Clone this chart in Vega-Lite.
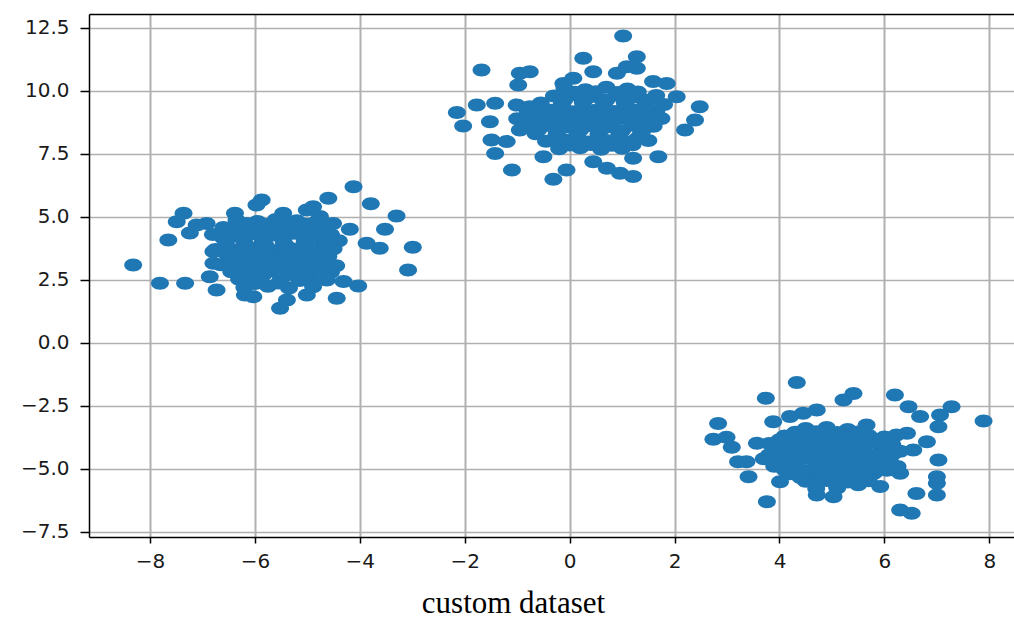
{
  "$schema": "https://vega.github.io/schema/vega-lite/v6.json",
  "width": 925,
  "height": 523,
  "autosize": {"type": "none"},
  "padding": {"left": 89, "top": 14, "right": 0, "bottom": 84},
  "background": "white",
  "config": {"view": {"stroke": null}},
  "title": {
    "text": "custom dataset",
    "orient": "bottom",
    "anchor": "middle",
    "font": "Liberation Serif",
    "fontSize": 31,
    "fontWeight": "normal",
    "color": "black",
    "dx": -38,
    "offset": 18
  },
  "data": {"values": [
    {"x": -4.12, "y": 6.2}, {"x": -4.6, "y": 5.74}, {"x": -3.79, "y": 5.52}, {"x": -3.3, "y": 5.03},
    {"x": -3.52, "y": 4.51}, {"x": -2.99, "y": 3.79}, {"x": -3.08, "y": 2.89}, {"x": -3.87, "y": 3.95},
    {"x": -3.62, "y": 3.75}, {"x": -4.19, "y": 4.51}, {"x": -4.03, "y": 2.26}, {"x": -4.44, "y": 1.77},
    {"x": -8.32, "y": 3.09}, {"x": -7.81, "y": 2.36}, {"x": -7.33, "y": 2.36}, {"x": -7.65, "y": 4.08},
    {"x": -7.49, "y": 4.81}, {"x": -7.36, "y": 5.14}, {"x": -7.24, "y": 4.36}, {"x": -6.92, "y": 4.74},
    {"x": -7.11, "y": 4.68}, {"x": -6.38, "y": 5.14}, {"x": -5.87, "y": 5.67}, {"x": -5.97, "y": 5.47},
    {"x": -5.46, "y": 5.14}, {"x": -5.01, "y": 5.27}, {"x": -4.89, "y": 5.4}, {"x": -4.76, "y": 5.01},
    {"x": -4.51, "y": 4.74}, {"x": -5.52, "y": 1.37}, {"x": -5.39, "y": 1.7}, {"x": -5.01, "y": 1.9},
    {"x": -4.89, "y": 2.23}, {"x": -4.63, "y": 2.49}, {"x": -4.31, "y": 2.43}, {"x": -6.19, "y": 1.9},
    {"x": -6.03, "y": 1.83}, {"x": -6.73, "y": 2.1}, {"x": -6.86, "y": 2.62}, {"x": -6.79, "y": 3.16},
    {"x": -6.79, "y": 3.62}, {"x": -6.6, "y": 4.28},
    {"x": -6.35, "y": 4.88}, {"x": -5.95, "y": 4.82}, {"x": -5.6, "y": 4.9}, {"x": -5.2, "y": 4.85}, {"x": -4.85, "y": 4.78},
    {"x": -6.6, "y": 4.58}, {"x": -6.15, "y": 4.62}, {"x": -5.8, "y": 4.55}, {"x": -5.4, "y": 4.6}, {"x": -5.0, "y": 4.65}, {"x": -4.65, "y": 4.55},
    {"x": -6.8, "y": 4.3}, {"x": -6.4, "y": 4.25}, {"x": -6.0, "y": 4.33}, {"x": -5.65, "y": 4.28}, {"x": -5.25, "y": 4.35}, {"x": -4.9, "y": 4.27}, {"x": -4.55, "y": 4.3},
    {"x": -6.55, "y": 4.02}, {"x": -6.2, "y": 3.97}, {"x": -5.85, "y": 4.05}, {"x": -5.45, "y": 3.98}, {"x": -5.05, "y": 4.03}, {"x": -4.7, "y": 3.96}, {"x": -4.4, "y": 4.05},
    {"x": -6.75, "y": 3.7}, {"x": -6.35, "y": 3.68}, {"x": -6.0, "y": 3.74}, {"x": -5.6, "y": 3.66}, {"x": -5.2, "y": 3.72}, {"x": -4.85, "y": 3.69}, {"x": -4.5, "y": 3.73},
    {"x": -6.5, "y": 3.42}, {"x": -6.1, "y": 3.38}, {"x": -5.75, "y": 3.45}, {"x": -5.35, "y": 3.4}, {"x": -4.95, "y": 3.36}, {"x": -4.6, "y": 3.43},
    {"x": -6.65, "y": 3.1}, {"x": -6.25, "y": 3.13}, {"x": -5.9, "y": 3.07}, {"x": -5.5, "y": 3.12}, {"x": -5.1, "y": 3.08}, {"x": -4.75, "y": 3.14}, {"x": -4.45, "y": 3.06},
    {"x": -6.45, "y": 2.82}, {"x": -6.05, "y": 2.78}, {"x": -5.65, "y": 2.84}, {"x": -5.3, "y": 2.77}, {"x": -4.9, "y": 2.83}, {"x": -4.55, "y": 2.8},
    {"x": -6.3, "y": 2.52}, {"x": -5.9, "y": 2.48}, {"x": -5.5, "y": 2.55}, {"x": -5.15, "y": 2.47}, {"x": -4.8, "y": 2.5},
    {"x": -6.2, "y": 2.2}, {"x": -5.75, "y": 2.25}, {"x": -5.35, "y": 2.18},
    {"x": -6.15, "y": 4.74}, {"x": -5.78, "y": 4.7}, {"x": -5.4, "y": 4.75}, {"x": -5.02, "y": 4.71},
    {"x": -6.4, "y": 4.45}, {"x": -6.0, "y": 4.47}, {"x": -5.6, "y": 4.43}, {"x": -5.2, "y": 4.46}, {"x": -4.8, "y": 4.44},
    {"x": -6.6, "y": 4.15}, {"x": -6.2, "y": 4.17}, {"x": -5.82, "y": 4.13}, {"x": -5.45, "y": 4.16}, {"x": -5.05, "y": 4.14}, {"x": -4.7, "y": 4.16},
    {"x": -6.55, "y": 3.85}, {"x": -6.15, "y": 3.83}, {"x": -5.8, "y": 3.87}, {"x": -5.4, "y": 3.84}, {"x": -5.0, "y": 3.86}, {"x": -4.65, "y": 3.84},
    {"x": -6.55, "y": 3.55}, {"x": -6.2, "y": 3.57}, {"x": -5.8, "y": 3.54}, {"x": -5.4, "y": 3.56}, {"x": -5.05, "y": 3.53}, {"x": -4.7, "y": 3.56},
    {"x": -6.45, "y": 3.25}, {"x": -6.05, "y": 3.27}, {"x": -5.65, "y": 3.24}, {"x": -5.25, "y": 3.26}, {"x": -4.85, "y": 3.23},
    {"x": -6.45, "y": 2.95}, {"x": -6.05, "y": 2.97}, {"x": -5.7, "y": 2.94}, {"x": -5.3, "y": 2.96}, {"x": -4.95, "y": 2.93}, {"x": -4.6, "y": 2.96},
    {"x": -6.25, "y": 2.65}, {"x": -5.85, "y": 2.67}, {"x": -5.45, "y": 2.64}, {"x": -5.05, "y": 2.66}, {"x": -4.7, "y": 2.63},
    {"x": -6.0, "y": 2.35}, {"x": -5.55, "y": 2.37},

    {"x": 1.02, "y": 12.18}, {"x": 0.26, "y": 11.3}, {"x": 1.28, "y": 11.36}, {"x": 1.28, "y": 10.9},
    {"x": -1.68, "y": 10.83}, {"x": -0.95, "y": 10.7}, {"x": -0.76, "y": 10.76}, {"x": -0.98, "y": 10.24},
    {"x": 0.45, "y": 10.76}, {"x": 1.59, "y": 10.37}, {"x": 1.85, "y": 10.3}, {"x": 2.04, "y": 9.77},
    {"x": 2.48, "y": 9.37}, {"x": 2.39, "y": 8.85}, {"x": 2.2, "y": 8.45}, {"x": 1.69, "y": 7.39},
    {"x": 1.21, "y": 7.33}, {"x": 1.21, "y": 6.6}, {"x": 0.96, "y": 6.73}, {"x": 0.71, "y": 6.93},
    {"x": 0.45, "y": 7.19}, {"x": -0.31, "y": 6.49}, {"x": -0.06, "y": 6.86}, {"x": -1.1, "y": 6.86},
    {"x": -1.42, "y": 7.52}, {"x": -1.49, "y": 8.05}, {"x": -2.03, "y": 8.61}, {"x": -2.15, "y": 9.14},
    {"x": -1.77, "y": 9.44}, {"x": -1.42, "y": 9.51}, {"x": -1.52, "y": 8.78}, {"x": -1.01, "y": 9.44},
    {"x": -0.76, "y": 9.37}, {"x": -0.44, "y": 9.18}, {"x": -0.5, "y": 7.39}, {"x": -1.2, "y": 7.99},
    {"x": -0.95, "y": 8.45}, {"x": -0.12, "y": 10.3}, {"x": 0.07, "y": 10.5}, {"x": 0.9, "y": 10.7},
    {"x": 1.09, "y": 10.96},
    {"x": -0.1, "y": 10.12}, {"x": 0.3, "y": 10.05}, {"x": 0.7, "y": 10.15}, {"x": 1.1, "y": 10.08},
    {"x": -0.3, "y": 9.8}, {"x": 0.1, "y": 9.85}, {"x": 0.5, "y": 9.78}, {"x": 0.9, "y": 9.83}, {"x": 1.3, "y": 9.77}, {"x": 1.65, "y": 9.82},
    {"x": -0.55, "y": 9.52}, {"x": -0.15, "y": 9.48}, {"x": 0.25, "y": 9.55}, {"x": 0.65, "y": 9.47}, {"x": 1.05, "y": 9.53}, {"x": 1.45, "y": 9.5}, {"x": 1.8, "y": 9.46},
    {"x": -0.8, "y": 9.2}, {"x": -0.35, "y": 9.23}, {"x": 0.05, "y": 9.17}, {"x": 0.45, "y": 9.22}, {"x": 0.85, "y": 9.18}, {"x": 1.25, "y": 9.24}, {"x": 1.65, "y": 9.19},
    {"x": -1.0, "y": 8.9}, {"x": -0.6, "y": 8.93}, {"x": -0.2, "y": 8.87}, {"x": 0.2, "y": 8.92}, {"x": 0.6, "y": 8.88}, {"x": 1.0, "y": 8.94}, {"x": 1.4, "y": 8.86}, {"x": 1.75, "y": 8.91},
    {"x": -0.85, "y": 8.6}, {"x": -0.4, "y": 8.63}, {"x": 0.0, "y": 8.57}, {"x": 0.4, "y": 8.62}, {"x": 0.8, "y": 8.58}, {"x": 1.2, "y": 8.64}, {"x": 1.6, "y": 8.6},
    {"x": -0.65, "y": 8.3}, {"x": -0.25, "y": 8.27}, {"x": 0.15, "y": 8.33}, {"x": 0.55, "y": 8.28}, {"x": 0.95, "y": 8.32}, {"x": 1.35, "y": 8.26},
    {"x": -0.45, "y": 8.0}, {"x": -0.05, "y": 8.04}, {"x": 0.35, "y": 7.97}, {"x": 0.75, "y": 8.02}, {"x": 1.15, "y": 7.98}, {"x": 1.5, "y": 8.03},
    {"x": -0.2, "y": 7.7}, {"x": 0.2, "y": 7.74}, {"x": 0.6, "y": 7.68}, {"x": 1.0, "y": 7.72},
    {"x": 0.1, "y": 9.95}, {"x": 0.5, "y": 9.97}, {"x": 0.9, "y": 9.94}, {"x": 1.3, "y": 9.96},
    {"x": -0.1, "y": 9.65}, {"x": 0.3, "y": 9.67}, {"x": 0.7, "y": 9.64}, {"x": 1.1, "y": 9.66}, {"x": 1.5, "y": 9.63},
    {"x": -0.6, "y": 9.35}, {"x": -0.15, "y": 9.37}, {"x": 0.25, "y": 9.34}, {"x": 0.65, "y": 9.36}, {"x": 1.05, "y": 9.33}, {"x": 1.45, "y": 9.36},
    {"x": -0.55, "y": 9.05}, {"x": -0.15, "y": 9.07}, {"x": 0.25, "y": 9.04}, {"x": 0.65, "y": 9.06}, {"x": 1.05, "y": 9.03}, {"x": 1.45, "y": 9.06},
    {"x": -0.8, "y": 8.75}, {"x": -0.4, "y": 8.77}, {"x": 0.0, "y": 8.74}, {"x": 0.4, "y": 8.76}, {"x": 0.8, "y": 8.73}, {"x": 1.2, "y": 8.76}, {"x": 1.6, "y": 8.74},
    {"x": -0.6, "y": 8.45}, {"x": -0.2, "y": 8.47}, {"x": 0.2, "y": 8.44}, {"x": 0.6, "y": 8.46}, {"x": 1.0, "y": 8.43}, {"x": 1.4, "y": 8.46},
    {"x": -0.25, "y": 8.15}, {"x": 0.15, "y": 8.17}, {"x": 0.55, "y": 8.14}, {"x": 0.95, "y": 8.16}, {"x": 1.3, "y": 8.13},
    {"x": 0.0, "y": 7.85}, {"x": 0.4, "y": 7.87}, {"x": 0.8, "y": 7.84}, {"x": 1.2, "y": 7.86},

    {"x": 4.33, "y": -1.58}, {"x": 3.74, "y": -2.2}, {"x": 5.41, "y": -2.01}, {"x": 5.22, "y": -2.27},
    {"x": 6.2, "y": -2.07}, {"x": 6.46, "y": -2.54}, {"x": 6.68, "y": -2.93}, {"x": 7.28, "y": -2.54},
    {"x": 7.06, "y": -2.87}, {"x": 7.03, "y": -3.33}, {"x": 7.89, "y": -3.11}, {"x": 2.83, "y": -3.2},
    {"x": 2.74, "y": -3.83}, {"x": 2.99, "y": -3.75}, {"x": 3.09, "y": -4.15}, {"x": 3.37, "y": -4.72},
    {"x": 3.21, "y": -4.72}, {"x": 3.41, "y": -5.32}, {"x": 3.76, "y": -6.31}, {"x": 3.88, "y": -3.13},
    {"x": 4.2, "y": -2.93}, {"x": 4.45, "y": -2.8}, {"x": 4.71, "y": -2.67}, {"x": 3.57, "y": -3.99},
    {"x": 4.01, "y": -5.52}, {"x": 4.71, "y": -6.04}, {"x": 5.03, "y": -6.11}, {"x": 6.3, "y": -6.64},
    {"x": 6.52, "y": -6.77}, {"x": 6.61, "y": -5.98}, {"x": 7.0, "y": -6.04}, {"x": 7.0, "y": -5.58},
    {"x": 7.0, "y": -5.32}, {"x": 7.03, "y": -4.65}, {"x": 6.81, "y": -3.93}, {"x": 6.55, "y": -4.26},
    {"x": 6.43, "y": -3.59}, {"x": 6.23, "y": -3.66}, {"x": 5.92, "y": -5.71}, {"x": 6.3, "y": -5.18},
    {"x": 5.66, "y": -3.26}, {"x": 5.53, "y": -3.99},
    {"x": 4.5, "y": -3.4}, {"x": 4.9, "y": -3.36}, {"x": 5.3, "y": -3.44},
    {"x": 4.1, "y": -3.7}, {"x": 4.5, "y": -3.73}, {"x": 4.9, "y": -3.67}, {"x": 5.3, "y": -3.72}, {"x": 5.7, "y": -3.68}, {"x": 6.0, "y": -3.74},
    {"x": 3.8, "y": -4.0}, {"x": 4.2, "y": -3.97}, {"x": 4.6, "y": -4.03}, {"x": 5.0, "y": -3.98}, {"x": 5.4, "y": -4.02}, {"x": 5.8, "y": -3.96}, {"x": 6.15, "y": -4.04},
    {"x": 3.95, "y": -4.3}, {"x": 4.35, "y": -4.27}, {"x": 4.75, "y": -4.33}, {"x": 5.15, "y": -4.28}, {"x": 5.55, "y": -4.32}, {"x": 5.95, "y": -4.26}, {"x": 6.3, "y": -4.31},
    {"x": 3.7, "y": -4.6}, {"x": 4.1, "y": -4.63}, {"x": 4.5, "y": -4.57}, {"x": 4.9, "y": -4.62}, {"x": 5.3, "y": -4.58}, {"x": 5.7, "y": -4.64}, {"x": 6.1, "y": -4.6},
    {"x": 3.9, "y": -4.9}, {"x": 4.3, "y": -4.87}, {"x": 4.7, "y": -4.93}, {"x": 5.1, "y": -4.88}, {"x": 5.5, "y": -4.92}, {"x": 5.9, "y": -4.86}, {"x": 6.25, "y": -4.91},
    {"x": 4.2, "y": -5.2}, {"x": 4.6, "y": -5.23}, {"x": 5.0, "y": -5.17}, {"x": 5.4, "y": -5.22}, {"x": 5.8, "y": -5.18},
    {"x": 4.5, "y": -5.5}, {"x": 4.9, "y": -5.47}, {"x": 5.3, "y": -5.53}, {"x": 5.7, "y": -5.48},
    {"x": 4.7, "y": -5.8}, {"x": 5.1, "y": -5.77},
    {"x": 4.3, "y": -3.55}, {"x": 4.7, "y": -3.53}, {"x": 5.1, "y": -3.56}, {"x": 5.5, "y": -3.54},
    {"x": 4.0, "y": -3.85}, {"x": 4.4, "y": -3.87}, {"x": 4.8, "y": -3.84}, {"x": 5.2, "y": -3.86}, {"x": 5.6, "y": -3.83}, {"x": 5.95, "y": -3.86},
    {"x": 4.0, "y": -4.15}, {"x": 4.4, "y": -4.17}, {"x": 4.8, "y": -4.14}, {"x": 5.2, "y": -4.16}, {"x": 5.6, "y": -4.13}, {"x": 6.0, "y": -4.16},
    {"x": 3.8, "y": -4.45}, {"x": 4.2, "y": -4.47}, {"x": 4.6, "y": -4.44}, {"x": 5.0, "y": -4.46}, {"x": 5.4, "y": -4.43}, {"x": 5.8, "y": -4.46}, {"x": 6.15, "y": -4.44},
    {"x": 3.9, "y": -4.75}, {"x": 4.3, "y": -4.77}, {"x": 4.7, "y": -4.74}, {"x": 5.1, "y": -4.76}, {"x": 5.5, "y": -4.73}, {"x": 5.9, "y": -4.76},
    {"x": 4.1, "y": -5.05}, {"x": 4.5, "y": -5.07}, {"x": 4.9, "y": -5.04}, {"x": 5.3, "y": -5.06}, {"x": 5.7, "y": -5.03}, {"x": 6.05, "y": -5.06},
    {"x": 4.4, "y": -5.35}, {"x": 4.8, "y": -5.37}, {"x": 5.2, "y": -5.34}, {"x": 5.6, "y": -5.36},
    {"x": 4.7, "y": -5.65}, {"x": 5.1, "y": -5.67}, {"x": 5.5, "y": -5.64}
  ]},
  "layer": [
    {
      "mark": {
        "type": "point",
        "filled": true,
        "opacity": 1,
        "color": "#1f77b4",
        "size": 169,
        "shape": "M1.38,0C1.38,0.552,0.762,1,0,1C-0.762,1,-1.38,0.552,-1.38,0C-1.38,-0.552,-0.762,-1,0,-1C0.762,-1,1.38,-0.552,1.38,0Z"
      },
      "encoding": {
        "x": {
          "field": "x", "type": "quantitative",
          "scale": {"domain": [-9.162, 8.47], "nice": false, "zero": false},
          "axis": {
            "title": null, "orient": "bottom",
            "values": [-8, -6, -4, -2, 0, 2, 4, 6, 8],
            "format": "d",
            "grid": true, "gridColor": "#b0b0b0", "gridWidth": 2, "gridOpacity": 1,
            "domain": true, "domainColor": "black", "domainWidth": 1.5,
            "ticks": true, "tickColor": "black", "tickWidth": 1.5, "tickSize": 6,
            "labelFont": "DejaVu Sans", "labelFontSize": 20, "labelColor": "#1a1a1a",
            "labelPadding": 8, "labelFlush": false, "labelOverlap": false
          }
        },
        "y": {
          "field": "y", "type": "quantitative",
          "scale": {"domain": [-7.711, 13.055], "nice": false, "zero": false},
          "axis": {
            "title": null,
            "values": [-7.5, -5, -2.5, 0, 2.5, 5, 7.5, 10, 12.5],
            "format": ".1f",
            "grid": true, "gridColor": "#b0b0b0", "gridWidth": 1.4, "gridOpacity": 1,
            "domain": true, "domainColor": "black", "domainWidth": 1.5,
            "ticks": true, "tickColor": "black", "tickWidth": 1.5, "tickSize": 9,
            "labelFont": "DejaVu Sans", "labelFontSize": 20, "labelColor": "#1a1a1a",
            "labelPadding": 11, "labelFlush": false, "labelOverlap": false
          }
        }
      }
    },
    {
      "mark": {"type": "point", "opacity": 0},
      "encoding": {
        "x": {
          "field": "x", "type": "quantitative",
          "axis": {
            "orient": "top", "title": null, "labels": false, "ticks": false, "grid": false,
            "domain": true, "domainColor": "black", "domainWidth": 1.5
          }
        },
        "y": {"field": "y", "type": "quantitative"}
      }
    }
  ],
  "resolve": {"axis": {"x": "independent"}}
}
